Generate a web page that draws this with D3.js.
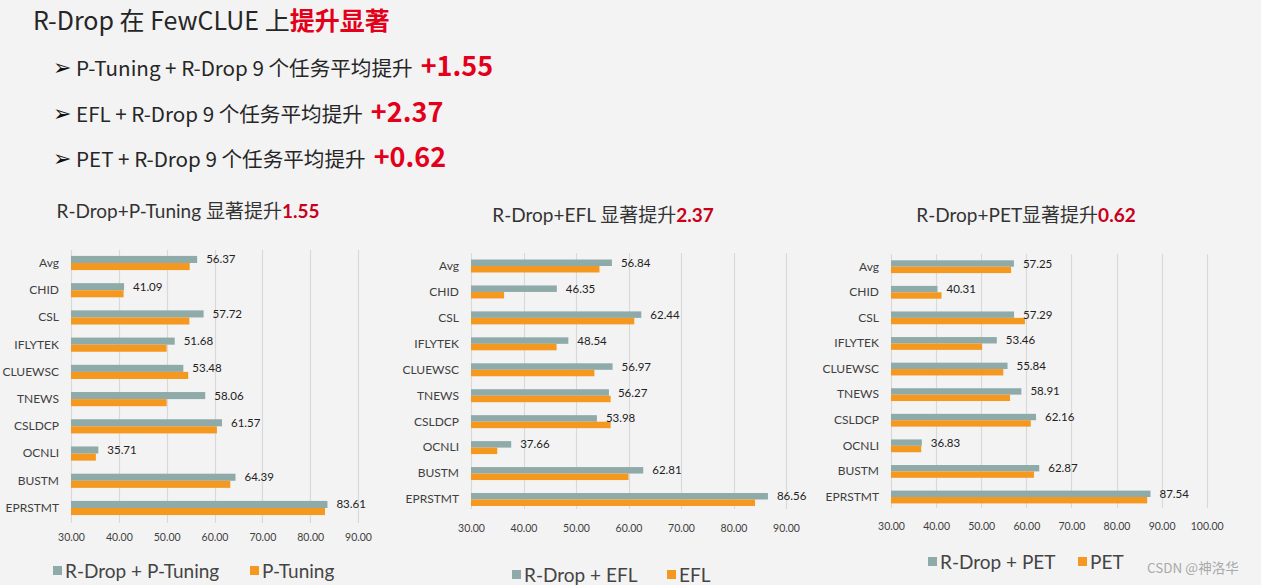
<!DOCTYPE html>
<html>
<head>
<meta charset="utf-8">
<script src="https://cdn.jsdelivr.net/npm/d3@7"></script>
<style>
  html, body { margin: 0; padding: 0; background: #f3f3f3; }
  svg { display: block; }
</style>
</head>
<body>
<svg id="chart" width="1261" height="585"></svg>
<script>
// ---------- DATA ----------
const categories = ["Avg", "CHID", "CSL", "IFLYTEK", "CLUEWSC", "TNEWS", "CSLDCP", "OCNLI", "BUSTM", "EPRSTMT"];

const ptuningRdrop = [56.37, 41.09, 57.72, 51.68, 53.48, 58.06, 61.57, 35.71, 64.39, 83.61];
const ptuningBase  = [54.82, 41.00, 54.75, 50.00, 54.50, 50.00, 60.50, 35.20, 63.30, 83.10];

const eflRdrop = [56.84, 46.35, 62.44, 48.54, 56.97, 56.27, 53.98, 37.66, 62.81, 86.56];
const eflBase  = [54.47, 36.30, 61.10, 46.30, 53.50, 56.60, 56.60, 35.00, 60.00, 84.10];

const petRdrop = [57.25, 40.31, 57.29, 53.46, 55.84, 58.91, 62.16, 36.83, 62.87, 87.54];
const petBase  = [56.63, 41.20, 59.70, 50.20, 54.90, 56.40, 61.00, 36.70, 61.70, 86.80];

const ticksTo90  = [30, 40, 50, 60, 70, 80, 90];
const ticksTo100 = [30, 40, 50, 60, 70, 80, 90, 100];

const seriesNames1 = ["R-Drop + P-Tuning", "P-Tuning"];
const seriesNames2 = ["R-Drop + EFL", "EFL"];
const seriesNames3 = ["R-Drop + PET", "PET"];

const chartTitles = [
  { text: "R-Drop+P-Tuning 显著提升", gain: "1.55" },
  { text: "R-Drop+EFL 显著提升", gain: "2.37" },
  { text: "R-Drop+PET显著提升", gain: "0.62" }
];

const headline = { pre: "R-Drop 在 FewCLUE 上", em: "提升显著" };
const bullets = [
  { text: "P-Tuning + R-Drop 9 个任务平均提升", gain: "+1.55" },
  { text: "EFL + R-Drop 9 个任务平均提升", gain: "+2.37" },
  { text: "PET + R-Drop 9 个任务平均提升", gain: "+0.62" }
];
const watermark = "CSDN @神洛华";

// ---------- STYLE / LAYOUT ----------
const TEAL = "#8eaaa9";
const ORANGE = "#f5981f";
const GRID = "#d9d9d9";
const LABEL = "#3f3f3f";
const RED = "#e3001b";
const DARKRED = "#c8001a";
const LATIN = "Lato, 'Noto Sans CJK SC', sans-serif";
const CJK = "'Noto Sans CJK SC', 'Noto Sans', sans-serif";

const svg = d3.select("#chart");

// Headline
const h = svg.append("text").attr("x", 33).attr("y", 30)
  .attr("font-family", CJK).attr("font-size", 25).attr("fill", "#262626");
h.append("tspan").text(headline.pre);
h.append("tspan").attr("fill", RED).attr("font-weight", "bold").text(headline.em);

const bulletY = [76, 122, 167];
bullets.forEach((b, i) => {
  svg.append("text").attr("x", 53).attr("y", bulletY[i] - 1)
    .attr("font-family", "'DejaVu Sans', sans-serif").attr("font-size", 22).attr("fill", "#111")
    .text("➢");
  const bt = svg.append("text").attr("x", 76).attr("y", bulletY[i])
    .attr("font-family", CJK).attr("font-size", 20.6).attr("fill", "#262626")
    .text(b.text);
  const end = 76 + bt.node().getComputedTextLength();
  svg.append("text").attr("x", end + 8).attr("y", bulletY[i])
    .attr("font-family", CJK).attr("font-size", 27).attr("font-weight", "bold").attr("fill", RED)
    .text(b.gain);
});

// Charts
const charts = [
  { rd: ptuningRdrop, base: ptuningBase, ticks: ticksTo90, names: seriesNames1, title: chartTitles[0],
    x0: 71, x1: 358, dom: [30, 90], c0: 263, c9: 508, pad: 0.48,
    gridTop: 250, gridBot: 523, tickY: 537, titleX: 188, titleY: 218,
    legY: 571, leg1X: 53, leg2X: 250, legFont: 19 },
  { rd: eflRdrop, base: eflBase, ticks: ticksTo90, names: seriesNames2, title: chartTitles[1],
    x0: 471, x1: 786, dom: [30, 90], c0: 266, c9: 499.5, pad: 0.5,
    gridTop: 253, gridBot: 509, tickY: 528, titleX: 603, titleY: 222,
    legY: 575, leg1X: 512, leg2X: 667, legFont: 19 },
  { rd: petRdrop, base: petBase, ticks: ticksTo100, names: seriesNames3, title: chartTitles[2],
    x0: 891, x1: 1206.7, dom: [30, 100], c0: 266.7, c9: 497, pad: 0.5,
    gridTop: 254, gridBot: 508, tickY: 526, titleX: 1026, titleY: 222,
    legY: 562, leg1X: 928, leg2X: 1078, legFont: 19 }
];

charts.forEach(c => {
  const g = svg.append("g");
  const x = d3.scaleLinear().domain(c.dom).range([c.x0, c.x1]);
  const step = (c.c9 - c.c0) / (categories.length - 1);
  const y = d3.scaleBand().domain(categories)
    .range([c.c0 - step / 2, c.c9 + step / 2])
    .paddingInner(c.pad).paddingOuter(c.pad / 2);
  const sub = d3.scaleBand().domain(["rd", "base"]).range([0, y.bandwidth()]);

  // gridlines
  g.append("g").selectAll("line").data(c.ticks).join("line")
    .attr("x1", d => Math.round(x(d)) + 0.5).attr("x2", d => Math.round(x(d)) + 0.5)
    .attr("y1", c.gridTop).attr("y2", c.gridBot)
    .attr("stroke", GRID).attr("stroke-width", 1.2);

  // bars
  const rows = categories.map((k, i) => ({ k, rd: c.rd[i], base: c.base[i] }));
  g.append("g").selectAll("rect.rd").data(rows).join("rect")
    .attr("x", x(c.dom[0])).attr("y", d => y(d.k) + sub("rd"))
    .attr("width", d => x(d.rd) - x(c.dom[0])).attr("height", sub.bandwidth())
    .attr("fill", TEAL);
  g.append("g").selectAll("rect.base").data(rows).join("rect")
    .attr("x", x(c.dom[0])).attr("y", d => y(d.k) + sub("base"))
    .attr("width", d => x(d.base) - x(c.dom[0])).attr("height", sub.bandwidth())
    .attr("fill", ORANGE);

  // value labels
  g.append("g").selectAll("text").data(rows).join("text")
    .attr("x", d => x(d.rd) + 9).attr("y", d => y(d.k) + sub("rd") + sub.bandwidth() / 2)
    .attr("dy", "0.35em")
    .attr("font-family", LATIN).attr("font-size", 11.5).attr("fill", "#222")
    .text(d => d.rd.toFixed(2));

  // category axis
  const ya = g.append("g").attr("transform", `translate(${c.x0},0)`)
    .call(d3.axisLeft(y).tickSize(0).tickPadding(12));
  ya.select(".domain").remove();
  ya.selectAll("text").attr("font-family", LATIN).attr("font-size", 12).attr("fill", LABEL);

  // value axis
  const xa = g.append("g").attr("transform", `translate(0,${c.tickY})`)
    .call(d3.axisBottom(x).tickValues(c.ticks).tickFormat(d3.format(".2f")).tickSize(0).tickPadding(0));
  xa.select(".domain").remove();
  xa.selectAll("text").attr("dy", "0.35em")
    .attr("font-family", LATIN).attr("font-size", 10.5).attr("fill", LABEL);

  // title
  const t = g.append("text").attr("x", c.titleX).attr("y", c.titleY).attr("text-anchor", "middle")
    .attr("font-family", LATIN).attr("font-size", 19).attr("fill", "#333");
  t.append("tspan").text(c.title.text);
  t.append("tspan").attr("fill", DARKRED).attr("font-weight", "bold").text(c.title.gain);

  // legend
  [[c.leg1X, TEAL, c.names[0]], [c.leg2X, ORANGE, c.names[1]]].forEach(([lx, col, name]) => {
    g.append("rect").attr("x", lx).attr("y", c.legY - 5).attr("width", 9).attr("height", 9).attr("fill", col);
    g.append("text").attr("x", lx + 12).attr("y", c.legY).attr("dy", "0.35em")
      .attr("font-family", LATIN).attr("font-size", c.legFont).attr("fill", "#444").text(name);
  });
});

// watermark
svg.append("text").attr("x", 1147).attr("y", 573)
  .attr("font-family", CJK).attr("font-size", 13.5).attr("fill", "#a9a9a9")
  .text(watermark);
</script>
</body>
</html>
